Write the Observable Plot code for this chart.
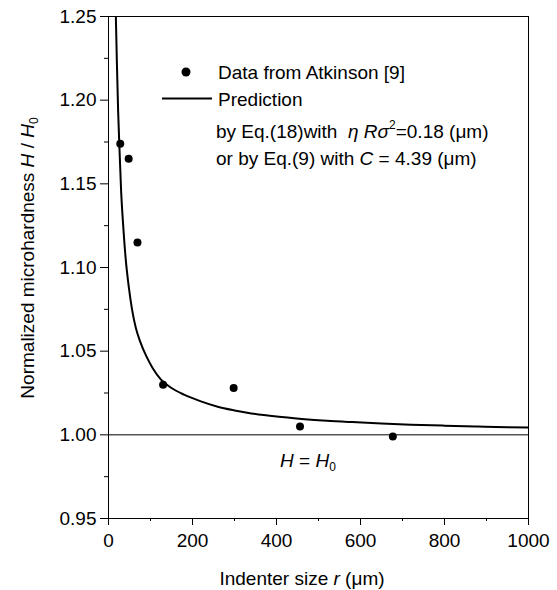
<!DOCTYPE html>
<html><head><meta charset="utf-8">
<script src="https://cdn.jsdelivr.net/npm/d3@7"></script>
<script src="https://cdn.jsdelivr.net/npm/@observablehq/plot@0.6"></script>
<style>
body{margin:0;background:#fff}
svg{font-family:"Liberation Sans",Arial,sans-serif}
svg g[aria-label$="tick label"] text, svg g[aria-label$="tick label"]{font-size:19px}
</style>
</head><body><div id="chart"></div>
<script>
// Measured data (Atkinson [9])
const dataR = [28, 48, 69, 130, 298, 456, 677];
const dataH = [1.174, 1.165, 1.115, 1.030, 1.028, 1.005, 0.999];
// Prediction curve
const predR = [17.5, 20, 23, 26, 30, 35, 41, 48, 56, 65, 75, 90, 105, 125, 150, 180, 220, 260, 300, 340, 400, 460, 520, 580, 650, 720, 800, 880, 950, 1000];
const predH = [1.25, 1.222, 1.193, 1.172, 1.146, 1.125, 1.105, 1.089, 1.075, 1.064, 1.056, 1.047, 1.040, 1.033, 1.028, 1.024, 1.020, 1.0168, 1.0146, 1.0128, 1.0109, 1.0095, 1.0084, 1.0076, 1.0068, 1.0061, 1.0055, 1.005, 1.0046, 1.0044];
const refLine = [1.0];
// Ticks
const xTicks = [0, 200, 400, 600, 800, 1000];
const xMinor = [100, 300, 500, 700, 900];
const yTicks = [0.95, 1.00, 1.05, 1.10, 1.15, 1.20, 1.25];
const yMinor = [0.975, 1.025, 1.075, 1.125, 1.175, 1.225];

const points = dataR.map((r, i) => ({r, h: dataH[i]}));
const curve = predR.map((r, i) => ({r, h: predH[i]}));

const W = 557, H = 590;
const chart = Plot.plot({
  width: W, height: H,
  marginLeft: 108, marginRight: 29, marginTop: 16, marginBottom: 72,
  style: {fontFamily: "Liberation Sans, Arial, sans-serif", fontSize: "19px", color: "black", background: "white"},
  x: {domain: [0, 1000]},
  y: {domain: [0.95, 1.25]},
  marks: [
    Plot.axisX(xTicks, {tickSize: 7, tickPadding: 8, tickFormat: d => String(d), fontSize: 19, label: null, stroke: "black"}),
    Plot.axisX(xMinor, {tickSize: 3, tickFormat: () => "", label: null, stroke: "black"}),
    Plot.axisY(yTicks, {tickSize: 8, tickPadding: 4, tickFormat: d3.format(".2f"), fontSize: 19, label: null, stroke: "black"}),
    Plot.axisY(yMinor, {tickSize: 4, tickFormat: () => "", label: null, stroke: "black"}),
    Plot.ruleY(refLine, {stroke: "black", strokeWidth: 1}),
    Plot.line(curve, {x: "r", y: "h", stroke: "black", strokeWidth: 2, curve: "monotone-x", clip: true}),
    Plot.dot(points, {x: "r", y: "h", r: 4, fill: "black", stroke: "none"}),
    Plot.frame({stroke: "black", strokeWidth: 1})
  ]
});
document.getElementById("chart").appendChild(chart);

const svg = d3.select(chart);
const g = svg.append("g").attr("fill", "black").attr("text-anchor", "start").style("font-size", "19px");

// Legend
g.append("circle").attr("cx", 186).attr("cy", 72).attr("r", 4.5);
g.append("line").attr("x1", 162).attr("x2", 212).attr("y1", 98.5).attr("y2", 98.5)
  .attr("stroke", "black").attr("stroke-width", 2);
g.append("text").attr("x", 218).attr("y", 79).text("Data from Atkinson [9]");
g.append("text").attr("x", 218).attr("y", 106).text("Prediction");

const t3 = g.append("text").attr("x", 216).attr("y", 138);
t3.append("tspan").text("by Eq.(18)with  ");
t3.append("tspan").style("font-style", "italic").text("η ");
t3.append("tspan").style("font-style", "italic").text("Rσ");
t3.append("tspan").attr("dy", -9).style("font-size", "12px").text("2");
t3.append("tspan").attr("dy", 9).text("=0.18 (μm)");

const t4 = g.append("text").attr("x", 216).attr("y", 165);
t4.append("tspan").text("or by Eq.(9) with ");
t4.append("tspan").style("font-style", "italic").text("C");
t4.append("tspan").text(" = 4.39 (μm)");

// H = H0 annotation
const t5 = g.append("text").attr("x", 280).attr("y", 467);
t5.append("tspan").style("font-style", "italic").text("H");
t5.append("tspan").text(" = ");
t5.append("tspan").style("font-style", "italic").text("H");
t5.append("tspan").attr("dy", 4).style("font-size", "12px").text("0");

// Axis titles
const tx = g.append("text").attr("x", 302).attr("y", 585).attr("text-anchor", "middle");
tx.append("tspan").text("Indenter size ");
tx.append("tspan").style("font-style", "italic").text("r");
tx.append("tspan").text(" (μm)");

const ty = g.append("text").attr("transform", "translate(34,258) rotate(-90)").attr("text-anchor", "middle");
ty.append("tspan").text("Normalized microhardness ");
ty.append("tspan").style("font-style", "italic").text("H");
ty.append("tspan").text(" / ");
ty.append("tspan").style("font-style", "italic").text("H");
ty.append("tspan").attr("dy", 4).style("font-size", "12px").text("0");
</script>
</body></html>
